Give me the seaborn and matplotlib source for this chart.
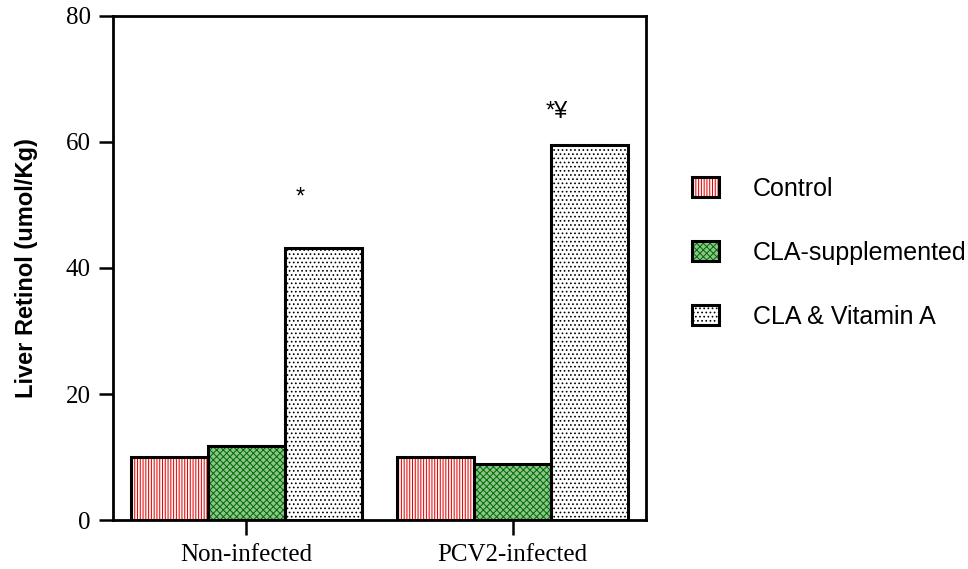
import seaborn as sns
import matplotlib.pyplot as plt
import pandas as pd
from matplotlib.patches import Rectangle, Patch
from matplotlib.legend_handler import HandlerTuple

groups = ["Non-infected", "PCV2-infected"]
treatments = ["Control", "CLA-supplemented", "CLA & Vitamin A"]
control = [10.0, 10.0]
cla = [11.7, 8.9]
cla_vit_a = [43.2, 59.5]
sig_marks = ["*", "*\u00a5"]
sig_heights = [50.2, 63.8]

df = pd.DataFrame({
    "group": groups * 3,
    "treatment": [t for t in treatments for _ in groups],
    "retinol": control + cla + cla_vit_a,
})

# fill, hatch, hatch colour per treatment
styles = [
    ("#fff4f4", "||||||", "#e00000"),
    ("#8cc48c", "xxxxx", "#006a00"),
    ("white", "....", "black"),
]

sns.set_style("white")
plt.rcParams.update({
    "hatch.linewidth": 0.7,
    "text.color": "black",
    "axes.labelcolor": "black",
    "xtick.color": "black",
    "ytick.color": "black",
})

fig = plt.figure(figsize=(9.68, 5.69), dpi=100)
ax = fig.add_axes([0.1167, 0.0861, 0.5507, 0.8858])

sns.barplot(data=df, x="group", y="retinol", hue="treatment",
            hue_order=treatments, order=groups, width=0.865,
            palette=["white"] * 3, errorbar=None, legend=False, ax=ax)

for cont, (fc, hatch, hc) in zip(ax.containers, styles):
    for bar in cont:
        bar.set_facecolor(fc)
        bar.set_hatch(hatch)
        bar.set_edgecolor(hc)
        bar.set_linewidth(0)
        ax.add_patch(Rectangle((bar.get_x(), bar.get_y()), bar.get_width(),
                               bar.get_height(), fill=False,
                               edgecolor="black", linewidth=2.2, zorder=3))

# significance marks above the vitamin A bars
for bar, mark, h, dx in zip(ax.containers[2], sig_marks, sig_heights, [-0.087, -0.124]):
    ax.text(bar.get_x() + bar.get_width() / 2 + dx, h, mark,
            ha="center", va="baseline", fontsize=17, family="Liberation Sans")

ax.set_xlim(-0.5, 1.5)
ax.set_ylim(0, 80)
ax.set_yticks([0, 20, 40, 60, 80])
ax.set_xlabel("")
ax.set_ylabel("Liver Retinol (umol/Kg)", fontsize=17, fontweight="bold",
              family="Liberation Sans", labelpad=20)
for s in ax.spines.values():
    s.set_linewidth(2)
    s.set_color("black")
ax.tick_params(axis="y", direction="out", length=10, width=1.8, left=True,
               labelsize=18, pad=6)
ax.tick_params(axis="x", direction="out", length=11, width=1.8, bottom=True,
               labelsize=18, pad=6)
for lab in ax.get_xticklabels() + ax.get_yticklabels():
    lab.set_family("Liberation Serif")

handles = []
for fc, hatch, hc in styles:
    handles.append((Patch(facecolor=fc, hatch=hatch, edgecolor=hc, linewidth=0),
                    Patch(fill=False, edgecolor="black", linewidth=2.2)))
fig.legend(handles, treatments, handler_map={tuple: HandlerTuple(ndivide=1)},
           loc="upper left", bbox_to_anchor=(0.7145, 0.689), frameon=False,
           prop={"family": "Liberation Sans", "size": 18},
           handlelength=1.1, handleheight=0.85, handletextpad=1.35,
           labelspacing=1.6, borderpad=0, borderaxespad=0)

fig.savefig("out.png", dpi=100)
